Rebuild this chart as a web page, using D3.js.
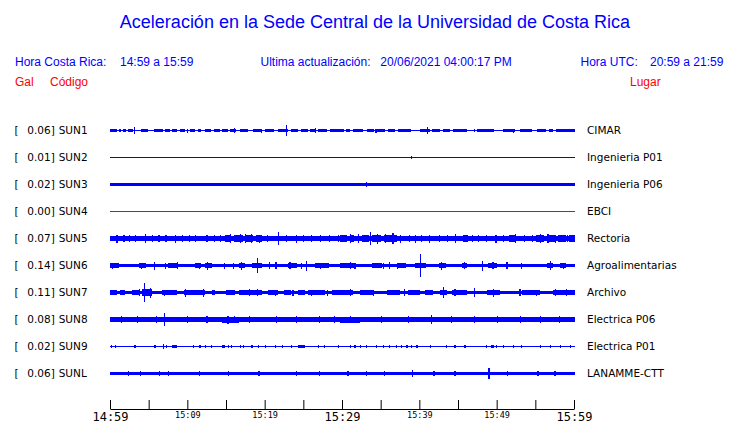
<!DOCTYPE html>
<html><head><meta charset="utf-8">
<script src="https://cdn.jsdelivr.net/npm/d3@7"></script>
<style>html,body{margin:0;padding:0;background:#fff;} svg{display:block}</style>
</head><body>
<svg id="c" width="740" height="423"></svg>
<script>
// ---------- DATA ----------
const titleText = "Aceleración en la Sede Central de la Universidad de Costa Rica";
const localRange = "14:59 a 15:59";
const utcRange = "20:59 a 21:59";
const lastUpdate = "20/06/2021 04:00:17 PM";

const stations = ["SUN1","SUN2","SUN3","SUN4","SUN5","SUN6","SUN7","SUN8","SUN9","SUNL"];
const places = ["CIMAR","Ingenieria P01","Ingenieria P06","EBCI","Rectoria","Agroalimentarias","Archivo","Electrica P06","Electrica P01","LANAMME-CTT"];
const peakGal = [0.06,0.01,0.02,0.00,0.07,0.14,0.11,0.08,0.02,0.06];

// minutes after 14:59 for time axis
const tickMinutes = [0,5,10,15,20,25,30,35,40,45,50,55,60];
const tickLabels = ["14:59","","15:09","","15:19","","15:29","","15:39","","15:49","","15:59"];
const majorLabels = ["14:59","15:29","15:59"];

// background (continuous) half-amplitude of each trace, relative units
const baseAmp = [0.5,0.5,1.65,0.5,2.8,1.5,1.6,2.3,0.5,1.65];

// louder stretches per trace: [startMin, endMin, halfAmp]
const bursts = [
  [[0,0.86,1.4],[1.16,1.42,1.4],[1.72,2.0,1.4],[2.37,3.0,1.4],[4.0,4.95,1.4],[5.72,6.88,1.4],[7.1,7.74,1.4],[7.96,8.6,1.4],[9.0,9.68,1.4],[10.3,11.0,1.4],[11.3,11.8,1.4],[12.26,13.0,1.4],[13.4,14.2,1.4],[14.4,15.2,1.4],[15.5,16.3,1.4],[16.8,17.85,1.4],[18.5,19.6,1.4],[20.0,21.1,1.4],[21.7,23.0,1.5],[23.4,24.3,1.4],[24.7,25.5,1.4],[25.8,26.45,1.4],[26.9,27.96,1.4],[28.4,30.2,1.4],[30.5,31.0,1.4],[31.4,32.7,1.4],[33.1,34.0,1.4],[34.4,35.5,1.4],[35.9,36.8,1.4],[37.2,38.9,1.4],[40.0,41.3,1.5],[41.6,42.6,1.4],[43.0,43.9,1.4],[44.3,46.0,1.4],[47.3,49.5,1.4],[50.75,52.3,1.4],[52.9,54.4,1.4],[55.1,56.2,1.4],[56.6,57.2,1.4],[57.6,60,1.4]],
  [],
  [],
  [],
  [[14.8,15.6,3.4],[16.0,17.2,3.6],[17.6,18.4,3.4],[18.8,19.6,3.5],[29.7,30.6,3.4],[31.0,31.5,3.3],[32.5,33.4,3.7],[33.8,35.0,3.9],[35.4,37.0,3.6],[45.5,46.2,3.3],[51.5,52.2,3.3],[55.0,56.0,3.4],[56.5,57.5,3.3],[57.8,58.8,3.3],[59.2,60,3.3]],
  [[0,1.1,2.2],[3.7,4.7,2.2],[7.5,8.6,2.3],[11.0,11.8,2.2],[12.3,13.1,2.2],[16.6,17.4,2.3],[18.3,19.6,2.3],[23.0,24.1,2.3],[26.5,28.2,2.2],[29.7,31.8,2.3],[33.8,35.1,2.2],[37.0,38.2,2.2],[39.4,40.8,2.4],[42.4,43.4,2.3],[45.4,46.0,2.3],[48.8,49.9,2.3],[56.4,57.2,2.3],[58.0,58.9,2.2]],
  [[0,0.86,2.3],[1.3,1.9,2.2],[2.8,3.7,2.3],[4.1,5.4,3.6],[6.7,8.6,2.4],[9.5,12.3,2.4],[13.1,13.5,2.2],[15.0,16.1,2.4],[16.6,19.6,2.5],[20.4,21.7,2.4],[22.4,23.4,2.4],[24.3,25.2,2.3],[25.6,27.7,2.3],[28.6,30.3,2.4],[29.7,31.4,2.3],[32.3,34.0,2.4],[35.7,37.4,2.4],[38.5,40.0,2.3],[40.6,41.7,2.3],[42.6,43.5,2.5],[44.1,46.0,2.4],[48.6,50.3,2.5],[53.1,55.5,2.4],[57.2,60,2.4]],
  [[0,1.9,2.9],[5.4,8.0,2.9],[14.4,16.6,3.0],[20.9,22.6,2.9],[23.4,25.2,2.9],[27.3,30.3,2.9],[29.7,32.3,3.0],[37.4,42.6,2.9],[51.2,52.0,2.8],[57.2,60,2.9]],
  [[8.0,8.6,1.2],[14.4,14.8,1.3],[24.3,25.2,1.2],[49.2,49.6,1.1]],
  [[1.7,4.9,1.9]]
];

// individual spikes per trace: [minute, halfAmp]
const spikes = [
  [[3.1,3.5],[22.8,5.5],[41.0,3.7],[16.0,2.2],[34.3,2.0],[52.0,2.0],[10.0,2.0],[26.5,2.2],[19.5,2.0],[47.0,1.9]],
  [[38.9,1.6]],
  [[33.1,2.8]],
  [],
  [[0.9,4],[1.8,3.6],[2.5,3.5],[3.3,3.7],[4.6,4.5],[5.5,3.6],[6.3,3.5],[7.2,3.8],[8.4,4],[9.3,3.6],[10.2,3.5],[11.0,3.7],[12.5,3.8],[13.5,3.6],[14.2,3.8],[15.5,4.2],[16.8,4.5],[17.5,4.6],[18.2,4.3],[19.3,4],[20.3,3.8],[21.7,6.2],[22.8,3.6],[24.1,4],[25,3.7],[26,3.5],[27.1,3.6],[28.3,3.8],[29.5,3.9],[31.0,4.5],[32,4.2],[33.6,6.5],[34.5,5],[35.5,4.5],[36.5,5.5],[37.5,4],[38.6,3.8],[39.4,4],[40.2,3.7],[41.2,4],[42.5,3.8],[43.5,3.6],[44.6,4.3],[45.9,3.8],[46.8,3.8],[47.5,3.8],[48.6,3.7],[49.8,4],[50.8,3.8],[52.3,4.2],[53.5,3.7],[54.5,3.8],[55.5,4.5],[56.5,4.2],[57.5,4],[58.2,3.9],[59,3.8],[59.6,3.7]],
  [[0.3,3],[4.1,3],[5.7,4],[7.1,3],[8.7,3.5],[11.5,3],[12.6,4],[14.8,3],[15.9,3],[17.0,4],[19.0,7.8],[20.6,3.5],[21.4,3.5],[23.2,3.5],[24.7,3],[25.3,5],[27.1,3],[31.0,3.5],[31.6,3],[35.3,3],[36.1,3.5],[37.1,3],[40.0,11.7],[42.8,4],[45.7,3.5],[48.0,5],[49.4,3.5],[51.2,3.5],[53.1,3],[56.8,4.5],[58.5,3]],
  [[4.4,9.5],[5.2,5],[3.8,3.5],[9.7,4],[12.0,4],[7.0,3],[18.0,3.5],[19.0,3.5],[21.3,3],[23.6,3],[26.0,3],[28.0,3],[31.0,3.5],[34.0,3],[38.0,3.5],[43.0,5.5],[44.5,3.5],[47.0,4.5],[49.5,4],[52.9,3.5],[55.0,3],[57.5,3.5],[58.9,3.5]],
  [[7.0,6.3],[1.5,3.5],[3.5,3.2],[6.0,3.8],[10.0,3.5],[12.5,3.5],[15.2,4],[16.0,3.8],[18,3.3],[21.5,3.5],[24,3.5],[27,3.3],[29,3.5],[31,3.5],[35,3.2],[38.5,3.5],[41.5,4.8],[44,3.5],[47,3.5],[50,3.8],[53,3.5],[55.5,3.5],[58,3.3]],
  [[0.2,1.4],[0.65,1.5],[3.2,1.5],[5.8,1.6],[6.9,2.5],[7.3,1.8],[10.75,1.5],[11.6,1.4],[12.3,1.5],[13.1,1.6],[15.3,1.5],[15.7,1.4],[16.8,1.5],[17.2,1.4],[18.3,1.5],[19.1,1.4],[20.0,1.6],[21.3,1.5],[22.2,1.4],[23.4,1.5],[26.9,1.4],[27.7,1.5],[29.5,1.4],[31.0,1.5],[31.6,1.4],[32.3,1.5],[33.1,1.4],[34.4,1.5],[35.3,1.4],[36.1,1.6],[37.0,1.4],[37.6,1.5],[38.3,1.4],[38.9,1.5],[39.6,1.4],[41.3,1.5],[43.4,1.4],[44.5,1.5],[45.8,1.4],[48.6,1.5],[49.9,1.6],[50.75,1.4],[52.0,1.5],[53.1,1.4],[55.5,1.5],[56.8,1.4],[58.1,1.5],[59.4,1.4]],
  [[2.4,2.7],[3.9,2.5],[6.4,2.5],[7.5,2.2],[11.5,2.2],[15.3,2.7],[19.2,2.2],[24.1,2.7],[27.0,2.2],[30.7,2.3],[33.1,2.3],[35.4,2.4],[39.0,3.5],[41.8,2.3],[44.5,2.2],[48.9,5.2],[51.3,2.3],[55.2,2.5],[57.4,2.2]]
];

// ---------- DRAW ----------
const BLUE = "#0000ff", RED = "#ff0000";
const svg = d3.select("#c");

const x = d3.scaleLinear().domain([0, 60]).range([110, 575]);
const y = d3.scalePoint().domain(stations).range([130.5, 373.5]);
const amp = d3.scaleLinear().domain([0, 12]).range([0, 12]);

// Title & header
svg.append("text").attr("x", 375).attr("y", 28).attr("text-anchor", "middle")
  .attr("font-family", "Liberation Sans, Arial, sans-serif").attr("font-size", 18)
  .attr("fill", BLUE).text(titleText);

const hdr = (tx, px, py, col) => svg.append("text").attr("x", px).attr("y", py)
  .attr("font-family", "Liberation Sans, Arial, sans-serif").attr("font-size", 12)
  .attr("fill", col).text(tx);
hdr("Hora Costa Rica:", 15, 65.5, BLUE);
hdr(localRange, 120, 65.5, BLUE);
hdr("Ultima actualización:", 260.5, 65.5, BLUE);
hdr(lastUpdate, 380.3, 65.5, BLUE);
hdr("Hora UTC:", 580.5, 65.5, BLUE);
hdr(utcRange, 650, 65.5, BLUE);
hdr("Gal", 15, 85.5, RED);
hdr("Código", 50, 85.5, RED);
hdr("Lugar", 630, 85.5, RED);

// Rows
const rows = stations.map((s, i) => ({code: s, place: places[i], peak: peakGal[i], base: baseAmp[i], bursts: bursts[i], spikes: spikes[i]}));
const fmt = d3.format(".2f");
const lblFont = "DejaVu Sans, Verdana, sans-serif";

const g = svg.selectAll("g.row").data(rows).join("g").attr("class", "row")
  .attr("transform", d => `translate(0,${y(d.code)})`);

g.append("text").attr("x", 14.5).attr("y", 3.8).attr("font-family", lblFont).attr("font-size", 10.5).attr("fill", "#000").text("[");
g.append("text").attr("x", 27.3).attr("y", 3.8).attr("font-family", lblFont).attr("font-size", 10.5).attr("fill", "#000").text(d => fmt(d.peak) + "]");
g.append("text").attr("x", 58.7).attr("y", 3.8).attr("font-family", lblFont).attr("font-size", 10.5).attr("fill", "#000").text(d => d.code);
g.append("text").attr("x", 587).attr("y", 3.8).attr("font-family", lblFont).attr("font-size", 10.5).attr("fill", "#000").text(d => d.place);

const col = d => d.peak === 0 ? RED : BLUE;

g.each(function(d) {
  const gg = d3.select(this);
  const c = col(d);
  const b0 = d.base <= 0.6 ? 0.5 : amp(d.base);
  gg.append("rect").attr("x", x(0)).attr("width", x(60) - x(0))
    .attr("y", -b0).attr("height", 2 * b0).attr("fill", c).attr("shape-rendering", "crispEdges");
  gg.selectAll("rect.burst").data(d.bursts).join("rect").attr("class", "burst")
    .attr("x", b => x(b[0])).attr("width", b => x(b[1]) - x(b[0]))
    .attr("y", b => -amp(b[2])).attr("height", b => 2 * amp(b[2]))
    .attr("fill", c).attr("shape-rendering", "crispEdges");
  gg.selectAll("rect.spike").data(d.spikes).join("rect").attr("class", "spike")
    .attr("x", s => x(s[0]) - 0.5).attr("width", 1.2)
    .attr("y", s => -amp(s[1])).attr("height", s => 2 * amp(s[1]))
    .attr("fill", c).attr("shape-rendering", "crispEdges");
});

// Time axis
const xa = d3.scaleLinear().domain([0, 60]).range([110, 574]);
const axis = d3.axisBottom(xa).tickValues(tickMinutes).tickSize(-9).tickSizeOuter(0)
  .tickFormat((d, i) => tickLabels[i]);
const ag = svg.append("g").attr("transform", "translate(0,409)").call(axis);
ag.select(".domain").attr("stroke", "#000");
ag.selectAll(".tick line").attr("stroke", "#000");
ag.selectAll(".tick text")
  .attr("font-family", "DejaVu Sans Mono, monospace")
  .attr("fill", "#000")
  .attr("dy", 0)
  .attr("font-size", (d, i) => majorLabels.includes(tickLabels[i]) ? 12 : 8.5)
  .attr("y", (d, i) => majorLabels.includes(tickLabels[i]) ? 11.7 : 9);
</script>
</body></html>
